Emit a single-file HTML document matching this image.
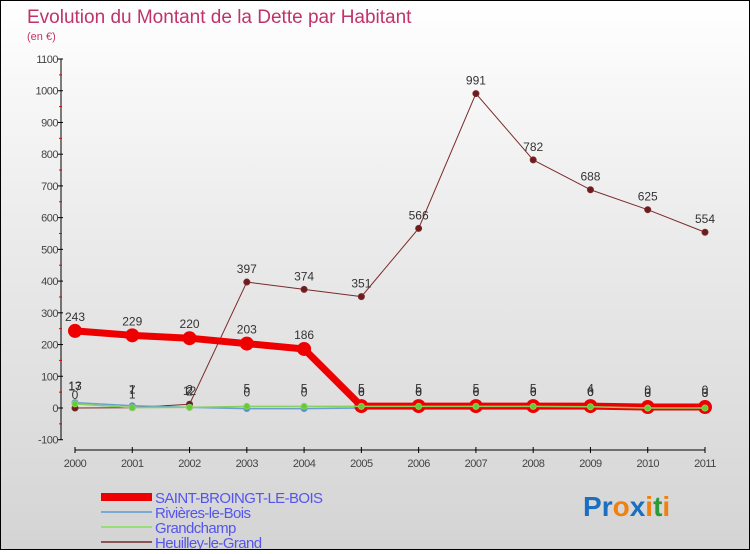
<!DOCTYPE html>
<html><head><meta charset="utf-8"><style>
html,body{margin:0;padding:0}
body{width:750px;height:550px;overflow:hidden;font-family:"Liberation Sans",sans-serif}
#c{position:absolute;left:0;top:0;width:748px;height:548px;border:1px solid #000;background:linear-gradient(#fff 0%,#ececec 40%,#d4d4d4 100%)}
</style></head><body>
<div id="c">
<svg id="s" width="748" height="548" xmlns="http://www.w3.org/2000/svg"></svg>
</div>
<script>
const years=["2000","2001","2002","2003","2004","2005","2006","2007","2008","2009","2010","2011"];
const yTicks=[-100,0,100,200,300,400,500,600,700,800,900,1000,1100];
const saint=[243,229,220,203,186,6,6,6,6,6,3,3];
const rivieres=[17,7,2,-2,-2,0,0,0,0,0,-3,-3];
const grandchamp=[13,1,2,5,5,5,5,5,5,4,0,0];
const heuilley=[0,1,12,397,374,351,566,991,782,688,625,554];
const saintLbl=["243","229","220","203","186","6","6","6","6","6","3","3"];
const rivLbl=["17","7","2","0","0","0","0","0","0","0","0","0"];
const grLbl=["13","1","2","5","5","5","5","5","5","4","0","0"];
const heLbl=["0","1","12","397","374","351","566","991","782","688","625","554"];
const NS="http://www.w3.org/2000/svg";
const svg=document.getElementById('s');
const X=i=>74+i*(630/11);
const Y=v=>407-v*(349/1100);
function el(t,a,p){const e=document.createElementNS(NS,t);for(const k in a)e.setAttribute(k,a[k]);(p||svg).appendChild(e);return e;}
function tx(x,y,s,a){const e=el('text',Object.assign({x:x,y:y},a));e.textContent=s;return e;}
let t=tx(26,22,"Evolution du Montant de la Dette par Habitant",{fill:"#c0336a","font-size":"19"});

t=tx(26,39,"(en €)",{fill:"#c0336a","font-size":"11"});

// y axis
let ax=el('line',{x1:60,y1:Y(1100),x2:60,y2:Y(-100),stroke:"#000"});

yTicks.forEach((v,i)=>{
 el('line',{x1:57,x2:62,y1:Y(v),y2:Y(v),stroke:"#000"});
 if(i<yTicks.length-1)el('line',{x1:58,x2:61,y1:Y(v+50),y2:Y(v+50),stroke:"#e00"});
 const l=tx(57,Y(v)+4,String(v),{"text-anchor":"end","font-size":"11",fill:"#444","letter-spacing":"-0.5"});
 
});
let xa=el('line',{x1:X(0),y1:449,x2:X(11),y2:449,stroke:"#000"});

years.forEach((y,i)=>{
 el('line',{x1:X(i),x2:X(i),y1:446,y2:452,stroke:"#000"});
 const l=tx(X(i),466,y,{"text-anchor":"middle","font-size":"11",fill:"#444","letter-spacing":"-0.5"});
 
});
function series(vals,lbls,color,w,r,fillc,name,lblUp){
 const g=el('g',{});
 
 el('polyline',{points:vals.map((v,i)=>X(i)+","+Y(v)).join(" "),fill:"none",stroke:color,"stroke-width":w,"stroke-linejoin":"round"},g);
 vals.forEach((v,i)=>{
  const c=el('circle',{cx:X(i),cy:Y(v),r:r,fill:fillc,stroke:color,"stroke-width":r>4?2:1},g);
  
  const l=tx(X(i),Y(v)-lblUp,lbls[i],{"text-anchor":"middle","font-size":"12",fill:"#333"},g);
  
 });
}
series(heuilley,heLbl,"#7a2a2a",1,3,"#6b1c1c","heuilley-series",9);
series(rivieres,rivLbl,"#6aa0d0",1.5,3,"#4a86c8","rivieres-series",12);
series(saint,saintLbl,"#ee0000",7,6,"#ee0000","saint-broingt-series",10);
series(grandchamp,grLbl,"#88d060",1.5,3,"#66cc33","grandchamp-series",14);
// legend
const leg=[["SAINT-BROINGT-LE-BOIS","#ee0000",8],["Rivières-le-Bois","#7aaad0",2],["Grandchamp","#99dd77",2],["Heuilley-le-Grand","#8a5555",2]];
leg.forEach((d,i)=>{
 const g=el('g',{});
 
 const y=496+i*15;
 el('line',{x1:100,x2:151,y1:y,y2:y,stroke:d[1],"stroke-width":d[2]},g);
 tx(154,y+6,d[0],{"font-size":"15",fill:"#5555ee","letter-spacing":"-0.6"},g);
});
// logo
const lg=el('text',{x:582,y:515,"font-size":"28","font-weight":"bold","letter-spacing":"0"});

[["P","#1a6fc0"],["r","#1a6fc0"],["o","#f08010"],["x","#1a6fc0"],["i","#f08010"],["t","#2a9a3a"],["i","#f08010"]].forEach(c=>{const s=el('tspan',{fill:c[1]},lg);s.textContent=c[0];});
</script>
</body></html>
